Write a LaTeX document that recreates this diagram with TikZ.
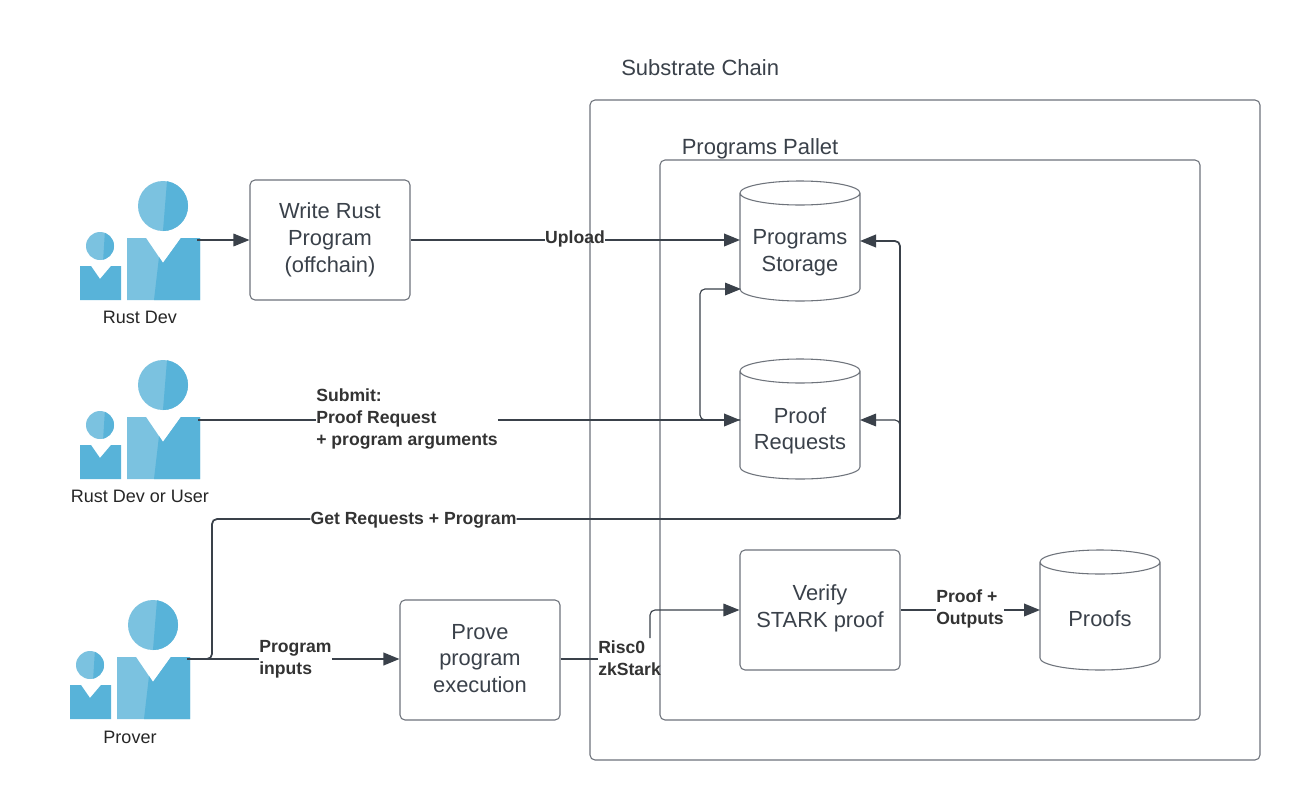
\documentclass[tikz,border=0pt]{standalone}
\usepackage{fontspec}
\setmainfont{Liberation Sans}
\usetikzlibrary{arrows.meta,calc}
\definecolor{ink}{HTML}{3A414A}
\definecolor{edgegray}{HTML}{6E737B}
\definecolor{labelink}{HTML}{333333}
\definecolor{lightblue}{HTML}{7BC2E0}
\definecolor{darkblue}{HTML}{58B3D9}
\newcommand{\drumoutline}[1]{%
  \draw[edgegray,line width=0.8pt] ($(#1.north west)+(0,12)$) -- ($(#1.south west)+(0,-12)$)
    arc[start angle=180,end angle=360,x radius=45pt,y radius=9pt] -- ($(#1.north east)+(0,12)$)
    arc[start angle=0,end angle=180,x radius=45pt,y radius=9pt]
    arc[start angle=180,end angle=360,x radius=45pt,y radius=9pt];}
\tikzset{
  boxtext/.style={align=center,inner sep=0pt,font=\fontsize{16.4}{20}\selectfont,text=ink},
  procbox/.style={boxtext,draw=edgegray,line width=0.8pt,rounded corners=3.75pt,minimum width=120pt,minimum height=90pt},
  frame/.style={draw=edgegray,line width=0.8pt,rounded corners=3.75pt,inner sep=0pt},
  store/.style={inner sep=0pt,outer sep=0pt,minimum width=90pt,minimum height=90pt},
  title/.style={anchor=west,inner sep=0pt,font=\fontsize{16.5}{20}\selectfont,text=ink},
  actor/.style={inner sep=0pt,font=\fontsize{13.5}{16}\selectfont,text=black!85},
  flowlabel/.style={inner sep=0pt,align=left,font=\bfseries\fontsize{13.2}{16.5}\selectfont,text=labelink},
  flow/.style={draw=ink,line width=1.3pt,rounded corners=3.75pt},
  thinflow/.style={draw=ink,line width=0.85pt,rounded corners=3.75pt},
  tip/.style={-{Triangle[length=12pt,width=9.5pt]}},
  pics/personfig/.style={code={
    \fill[lightblue] (163,206) circle[radius=25];
    \begin{scope}
      \clip (163,206) circle[radius=25];
      \fill[darkblue] (167.5,175) -- (162.5,237) -- (195,237) -- (195,175) -- cycle;
    \end{scope}
    \fill[lightblue] (127,238) -- (146,238) -- (163,263) -- (181,238) -- (200,238) -- (200,300) -- (127,300) -- cycle;
    \fill[darkblue] (154,300) -- (159,257) -- (163,263) -- (181,238) -- (200,238) -- (200,300) -- cycle;
    \fill[lightblue] (100,246) circle[radius=14];
    \begin{scope}
      \clip (100,246) circle[radius=14];
      \fill[darkblue] (105,230) -- (103,262) -- (116,262) -- (116,230) -- cycle;
    \end{scope}
    \fill[darkblue] (80,266) -- (91,266) -- (100,279) -- (111,266) -- (121,266) -- (121,300) -- (80,300) -- cycle;
    \coordinate (-hand) at (197,240);
  }}
}
\begin{document}
\begin{tikzpicture}[x=0.75pt,y=-0.75pt]
\useasboundingbox (0,0) rectangle (1300,800);
\fill[white] (0,0) rectangle (1300,800);
% frames
\node[frame,minimum width=502.5pt,minimum height=495pt] (chain) at (925,430) {};
\node[frame,minimum width=405pt,minimum height=420pt] (pallet) at (930,440) {};
\node[title] (chainT) at (621,67.5) {Substrate Chain};
\node[title] (palletT) at (681.5,148.5) {Programs Pallet};
% people
\pic (dev) at (0,0) {personfig};
\pic (user) at (0,179) {personfig};
\pic (prover) at (-10,419) {personfig};
\coordinate (userhand) at (198,420);
\node[actor] (devL) at (140,317) {Rust Dev};
\node[actor] (userL) at (140,496) {Rust Dev or User};
\node[actor] (proverL) at (130,737) {Prover};
% boxes
\node[procbox] (write) at (330,240) {Write Rust\\Program\\(offchain)};
\node[procbox] (prove) at (480,660) {};
\node[boxtext] (proveT) at (480,658.5) {Prove\\program\\execution};
\node[procbox] (verify) at (820,610) {};
\node[boxtext] (verifyT) at (820,608.5) {Verify\\STARK proof};
% stores
\node[store] (pstore) at (800,241) {};
\drumoutline{pstore}
\node[boxtext] (pstoreT) at (800,253) {Programs\\Storage};
\node[store] (preq) at (800,419) {};
\drumoutline{preq}
\node[boxtext] (preqT) at (800,431) {Proof\\Requests};
\node[store] (proofs) at (1100,610) {};
\drumoutline{proofs}
\node[boxtext] (proofsT) at (1100,619) {Proofs};
% labels
\node[flowlabel] (upload) at (575,239) {Upload};
\node[flowlabel,anchor=west] (submit) at (316,419) {Submit:\\Proof Request\\+ program arguments};
\node[flowlabel] (getreq) at (413.5,520) {Get Requests + Program};
\node[flowlabel,anchor=west] (pinputs) at (259,659) {Program\\inputs};
\node[flowlabel,anchor=west] (risc) at (598,658) {Risc0\\zkStark};
\node[flowlabel,anchor=west] (outputs) at (936,608.5) {Proof +\\Outputs};
% connector helpers
\coordinate (riscout) at (650,638);
\coordinate (bus) at (900,519);
% connectors
\draw[thinflow,tip] (dev-hand) -- (write.west);
\draw[flow] (write.east) -- (upload.west |- write.east);
\draw[flow,tip] (upload.east |- write.east) -- (pstore.west |- write.east);
\draw[flow] (userhand) -- (submit.west |- userhand);
\draw[flow,tip] (submit.east |- userhand) -- (preq.west |- userhand);
\draw[thinflow,tip] (preq.west |- userhand) -- (700,420) -- (700,289) -- (741,289);
\draw[flow] (prover-hand) -- (212,659) -- (212,519) -- (getreq.west |- bus);
\draw[flow,tip] (getreq.east |- bus) -- (bus) -- (900,241) -- (pstore.east |- 0,241);
\draw[thinflow,tip] (bus) -- (900,420) -- (preq.east |- userhand);
\draw[flow] (prover-hand) -- (pinputs.west |- prover-hand);
\draw[flow,tip] (pinputs.east |- prover-hand) -- (prove.west |- prover-hand);
\draw[thinflow] (prove.east |- prover-hand) -- (risc.west |- prover-hand);
\draw[thinflow,tip] (riscout) -- (650,610) -- (verify.west |- 0,610);
\draw[flow] (verify.east) -- (outputs.west |- verify.east);
\draw[flow,tip] (outputs.east |- verify.east) -- (proofs.west |- verify.east);
\end{tikzpicture}
\end{document}
